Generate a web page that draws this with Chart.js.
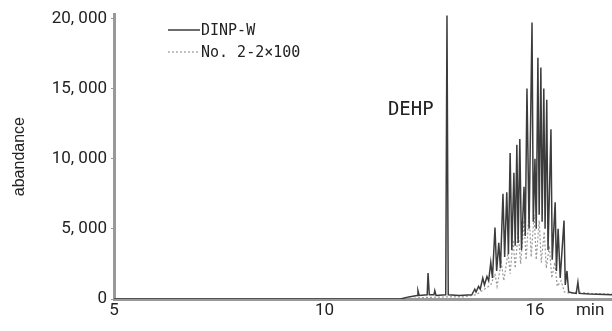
<!DOCTYPE html>
<html>
<head>
<meta charset="utf-8">
<script src="https://cdn.jsdelivr.net/npm/chart.js@4/dist/chart.umd.min.js"></script>
<style>
  html, body { margin: 0; padding: 0; background: #fff; }
  #wrap { width: 612px; height: 331px; }
</style>
</head>
<body>
<div id="wrap"><canvas id="c" width="612" height="331"></canvas></div>
<script>
// ---- data ----
const seriesNames = ['DINP-W', 'No. 2-2×100'];

const dinpTimes = [5.00, 11.80, 12.00, 12.20, 12.22, 12.25, 12.44, 12.46, 12.49, 12.60, 12.62, 12.65, 12.88, 12.91, 12.94,
  13.20, 13.50, 13.57, 13.60, 13.66, 13.70, 13.76, 13.80, 13.86, 13.90, 13.95, 13.99,
  14.05, 14.09, 14.14, 14.18, 14.24, 14.28, 14.33, 14.37, 14.41, 14.45, 14.50, 14.53, 14.57, 14.60, 14.64, 14.68,
  14.74, 14.77, 14.81, 14.86, 14.93, 14.96, 15.00, 15.03, 15.07, 15.10, 15.14, 15.17, 15.21, 15.24, 15.28, 15.31,
  15.38, 15.41, 15.48, 15.51, 15.55, 15.60, 15.69, 15.72, 15.76, 15.80, 15.88, 15.98, 16.02, 16.05, 16.30, 16.83];
const dinpValues = [0, 0, 150, 250, 600, 250, 300, 1850, 300, 300, 600, 250, 300, 20200, 300,
  250, 300, 700, 500, 900, 700, 1500, 1000, 1600, 1300, 2600, 1500,
  5100, 2000, 4000, 2200, 7500, 3000, 7600, 3200, 10400, 3500, 9000, 3800, 11000, 4000, 11400, 3500,
  8000, 4500, 15000, 5000, 19700, 5500, 10000, 5000, 17200, 6000, 16500, 5500, 15000, 5000, 14200, 3500,
  12100, 2800, 6900, 2000, 5000, 1500, 5600, 1000, 2000, 500, 450, 400, 1200, 400, 350, 300];

const no22Times = [5.00, 12.00, 12.30, 12.91, 13.30, 13.60, 13.80, 13.95, 14.05, 14.10, 14.20, 14.26, 14.36, 14.41,
  14.48, 14.53, 14.60, 14.66, 14.74, 14.79, 14.86, 14.91, 14.98, 15.03, 15.10, 15.15, 15.22, 15.27, 15.34, 15.40,
  15.47, 15.53, 15.62, 15.70, 15.85, 16.00, 16.30, 16.83];
const no22Values = [0, 0, 100, 150, 150, 300, 700, 1000, 1800, 900, 2600, 1300, 3300, 1800,
  4200, 2200, 4800, 2500, 5600, 2800, 6200, 3000, 6000, 2800, 5600, 2600, 4800, 2200, 3800, 1500,
  2600, 900, 1300, 500, 400, 500, 400, 350];

const xTickValues = [5, 10, 15, 16.31];
const xTickLabels = ['5', '10', '16', 'min'];
const yTickValues = [0, 5000, 10000, 15000, 20000];
const yTickLabels = ['0', '5, 000', '10, 000', '15, 000', '20, 000'];
const yTitle = 'abandance';
const peakLabel = 'DEHP';

// ---- chart ----
const toPoints = (xs, ys) => xs.map((x, i) => ({ x: x, y: ys[i] }));

const overlay = {
  id: 'overlay',
  afterDraw(chart) {
    const ctx = chart.ctx;
    ctx.save();
    // legend
    const rows = [30, 52];
    chart.data.datasets.forEach((ds, i) => {
      const y = rows[i];
      ctx.beginPath();
      ctx.setLineDash(ds.borderDash || []);
      ctx.strokeStyle = ds.borderColor;
      ctx.lineWidth = ds.borderWidth;
      ctx.moveTo(168, y);
      ctx.lineTo(200, y);
      ctx.stroke();
      ctx.setLineDash([]);
      ctx.fillStyle = '#222';
      ctx.font = '15px "DejaVu Sans Mono"';
      ctx.textBaseline = 'middle';
      ctx.textAlign = 'left';
      ctx.fillText(ds.label, 201, y + 1);
    });
    // peak label
    const xs = chart.scales.x, ys = chart.scales.y;
    ctx.fillStyle = '#222';
    ctx.font = '19px "DejaVu Sans Mono"';
    ctx.textAlign = 'center';
    ctx.textBaseline = 'middle';
    ctx.fillText(peakLabel, xs.getPixelForValue(12.05), ys.getPixelForValue(13500));
    ctx.restore();
  }
};

new Chart(document.getElementById('c'), {
  type: 'line',
  data: {
    datasets: [
      {
        label: seriesNames[0],
        data: toPoints(dinpTimes, dinpValues),
        borderColor: '#3c3c3c',
        borderWidth: 1.5,
        pointRadius: 0,
        tension: 0,
        fill: false
      },
      {
        label: seriesNames[1],
        data: toPoints(no22Times, no22Values),
        borderColor: '#999999',
        borderWidth: 1.2,
        borderDash: [2, 2],
        pointRadius: 0,
        tension: 0,
        fill: false
      }
    ]
  },
  options: {
    responsive: false,
    animation: false,
    layout: { padding: { top: 13, left: 0, right: 0, bottom: 0 } },
    plugins: { legend: { display: false }, tooltip: { enabled: false } },
    scales: {
      x: {
        type: 'linear',
        min: 5,
        max: 16.83,
        afterFit: s => { s.height = 32; },
        afterBuildTicks: s => { s.ticks = xTickValues.map(v => ({ value: v })); },
        ticks: {
          autoSkip: false,
          maxRotation: 0,
          padding: 2,
          color: '#222',
          font: { family: 'Roboto', size: 17 },
          callback: (v, i) => xTickLabels[i]
        },
        grid: { drawOnChartArea: false, drawTicks: false },
        border: { color: '#999', width: 3 }
      },
      y: {
        min: 0,
        max: 20300,
        afterFit: s => { s.width = 114; },
        afterBuildTicks: s => { s.ticks = yTickValues.map(v => ({ value: v })); },
        ticks: {
          padding: 4,
          color: '#222',
          font: { family: 'Roboto', size: 17 },
          callback: (v, i) => yTickLabels[i]
        },
        grid: { drawOnChartArea: false, drawTicks: true, tickLength: 3, color: '#999' },
        border: { color: '#999', width: 3 },
        title: {
          display: true,
          text: yTitle,
          color: '#222',
          font: { family: 'Liberation Sans', size: 16 },
          padding: { top: 10, bottom: 0 }
        }
      }
    }
  },
  plugins: [overlay]
});
</script>
</body>
</html>
